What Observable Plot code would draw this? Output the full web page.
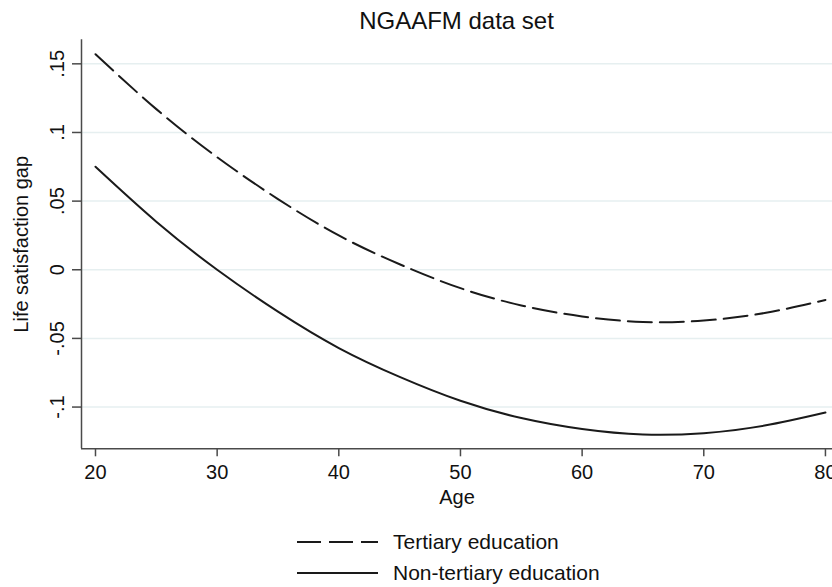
<!DOCTYPE html>
<html><head><meta charset="utf-8">
<script src="https://cdn.jsdelivr.net/npm/d3@7"></script>
<script src="https://cdn.jsdelivr.net/npm/@observablehq/plot@0.6"></script>
<style>
body{margin:0;overflow:hidden;background:#fff;font-family:"Liberation Sans",Arial,sans-serif;}
#wrap{position:relative;width:832px;height:587px;overflow:hidden;}
#title{position:absolute;left:81px;width:751px;top:0;line-height:42px;text-align:center;font-size:24px;color:#111;}
#legend{position:absolute;left:297px;top:526px;font-size:21px;color:#111;}
.row{display:flex;align-items:center;height:31px;white-space:nowrap;}
.row svg{margin-right:15px;display:block;}
</style></head><body>
<div id="wrap"><div id="chart"></div><div id="title">NGAAFM data set</div><div id="legend"></div></div>
<script>
// Data
const ages = [20, 25, 30, 35, 40, 45, 50, 55, 60, 65, 70, 75, 80];
const tertiary = [0.157, 0.117, 0.082, 0.0515, 0.025, 0.004, -0.0134, -0.026, -0.034, -0.038, -0.037, -0.0315, -0.022];
const nonTertiary = [0.075, 0.035, 0.000, -0.0305, -0.057, -0.078, -0.0954, -0.108, -0.116, -0.120, -0.119, -0.1135, -0.104];
const seriesNames = ["Tertiary education", "Non-tertiary education"];
const xTicks = [20, 30, 40, 50, 60, 70, 80];
const yTicks = [0.15, 0.1, 0.05, 0, -0.05, -0.1];
const yTickLabels = [".15", ".1", ".05", "0", "-.05", "-.1"];
const xDomain = [18.85, 80.58];
const yDomain = [-0.1304, 0.1675];

const dashes = ["24,8", null];
const ink = "#1a1a1a";
const axisColor = "#4a4a4a";

const rows = [];
ages.forEach((a, i) => {
  rows.push({age: a, value: tertiary[i], series: seriesNames[0]});
  rows.push({age: a, value: nonTertiary[i], series: seriesNames[1]});
});

const chart = Plot.plot({
  width: 832, height: 535,
  marginTop: 39.3, marginLeft: 81, marginRight: 0, marginBottom: 86.7,
  style: {fontFamily: "'Liberation Sans', Arial, sans-serif", fontSize: "20px", color: "#111", background: "transparent", overflow: "visible"},
  x: {domain: xDomain},
  y: {domain: yDomain},
  marks: [
    Plot.gridY(yTicks, {stroke: "#e6eff0", strokeOpacity: 1, strokeWidth: 1.5}),
    Plot.ruleX([xDomain[0]], {stroke: axisColor, strokeWidth: 1.5}),
    Plot.ruleY([yDomain[0]], {stroke: axisColor, strokeWidth: 1.5}),
    Plot.axisX(xTicks, {tickSize: 8, tickPadding: 8, stroke: axisColor, strokeWidth: 1.5, fontSize: 20,
      label: "Age", labelAnchor: "center", labelOffset: 55, labelArrow: "none"}),
    Plot.axisY(yTicks, {tickSize: 9, tickPadding: 9, tickRotate: -90, stroke: axisColor, strokeWidth: 1.5, fontSize: 20,
      tickFormat: d => yTickLabels[yTicks.indexOf(d)],
      label: "Life satisfaction gap", labelAnchor: "center", labelOffset: 68, labelArrow: "none"}),
    ...seriesNames.map((s, k) => Plot.line(rows.filter(r => r.series === s), {
      x: "age", y: "value", curve: "natural", stroke: ink, strokeWidth: 2,
      strokeDasharray: dashes[k] ?? undefined
    }))
  ]
});
document.getElementById("chart").appendChild(chart);

const legend = document.getElementById("legend");
seriesNames.forEach((s, k) => {
  const row = document.createElement("div");
  row.className = "row";
  row.innerHTML = `<svg width="81" height="4"><line x1="0" x2="81" y1="2" y2="2" stroke="${ink}" stroke-width="2" ${dashes[k] ? `stroke-dasharray="${dashes[k]}"` : ""}/></svg><span>${s}</span>`;
  legend.appendChild(row);
});
</script>
</body></html>
